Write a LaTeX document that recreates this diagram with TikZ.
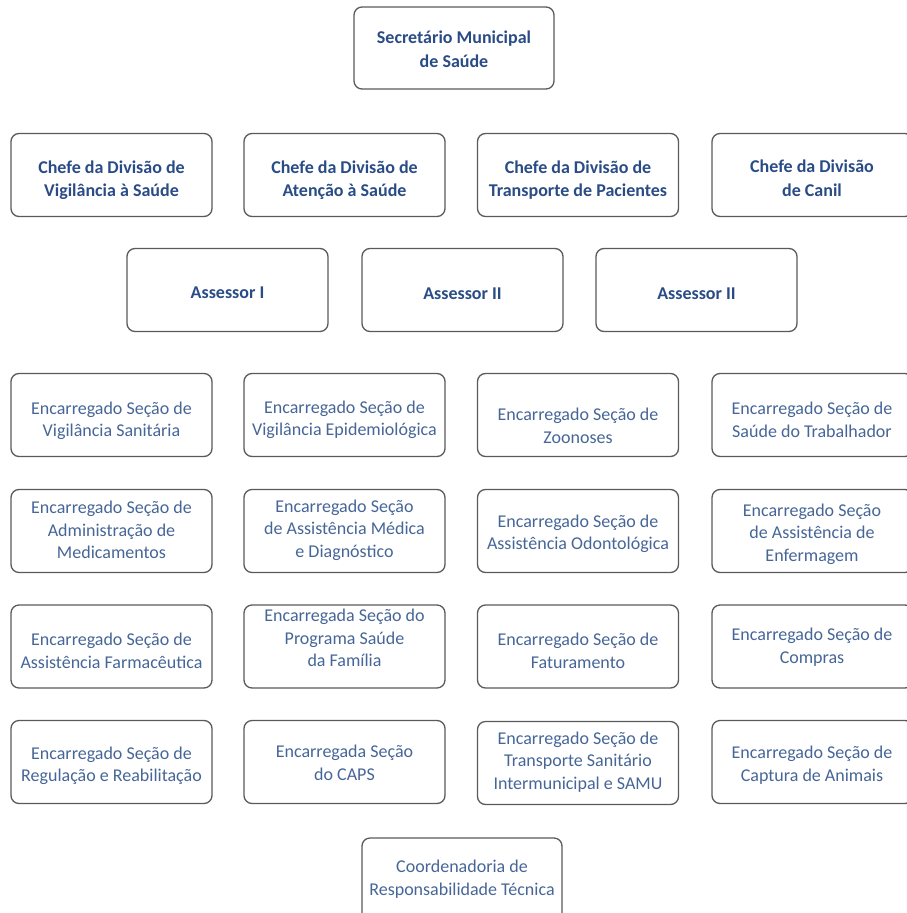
\documentclass[tikz,border=0pt]{standalone}
\usepackage{fontspec}
\setmainfont{Carlito}
\definecolor{bordercol}{RGB}{90,90,90}
\definecolor{boldblue}{RGB}{42,76,134}
\definecolor{regblue}{RGB}{70,102,152}
\tikzset{
  box/.style={draw=bordercol, line width=1.3pt, rounded corners=8pt, fill=white,
    minimum width=201pt, minimum height=83pt, inner sep=0pt},
  btxt/.style={align=center, inner sep=0pt, text=boldblue,
    font=\fontsize{18}{23.5}\selectfont\bfseries},
  rtxt/.style={align=center, inner sep=0pt, text=regblue,
    font=\fontsize{18}{22.5}\selectfont}
}
\begin{document}
\begin{tikzpicture}[x=1pt,y=-1pt]
\useasboundingbox (0,0) rectangle (907,913);
\clip (0,0) rectangle (907,913);
% top
\node[box, minimum width=200pt, minimum height=82pt] (sec) at (454,48) {};
\node[btxt] (secT) at (454,49) {Secretário Municipal\\de Saúde};
% row 2 chefes
\node[box] (c1) at (111.5,175) {};
\node[btxt] (c1T) at (111.5,180) {Chefe da Divisão de\\Vigilância à Saúde};
\node[box] (c2) at (344.5,175) {};
\node[btxt] (c2T) at (344.5,180) {Chefe da Divisão de\\Atenção à Saúde};
\node[box] (c3) at (578,175) {};
\node[btxt] (c3T) at (578,180) {Chefe da Divisão de\\Transporte de Pacientes};
\node[box] (c4) at (812.5,175) {};
\node[btxt] (c4T) at (812,178) {Chefe da Divisão\\de Canil};
% row 3 assessores
\node[box] (a1) at (227.5,290) {};
\node[btxt] (a1T) at (227.5,293) {Assessor I};
\node[box] (a2) at (462.5,290) {};
\node[btxt] (a2T) at (462.5,294) {Assessor II};
\node[box] (a3) at (696.5,290) {};
\node[btxt] (a3T) at (696.5,294) {Assessor II};
% row 4
\node[box] (r41) at (111.5,415) {};
\node[rtxt] (r41T) at (111.5,421) {Encarregado Seção de\\Vigilância Sanitária};
\node[box] (r42) at (344.5,415) {};
\node[rtxt] (r42T) at (344.5,420) {Encarregado Seção de\\Vigilância Epidemiológica};
\node[box] (r43) at (578,415) {};
\node[rtxt] (r43T) at (578,426) {Encarregado Seção de\\Zoonoses};
\node[box] (r44) at (812.5,415) {};
\node[rtxt] (r44T) at (812,420) {Encarregado Seção de\\Saúde do Trabalhador};
% row 5
\node[box] (r51) at (111.5,531) {};
\node[rtxt] (r51T) at (111.5,530) {Encarregado Seção de\\Administração de\\Medicamentos};
\node[box] (r52) at (344.5,531) {};
\node[rtxt] (r52T) at (344.5,530) {Encarregado Seção\\de Assistência Médica\\e Diagnóstico};
\node[box] (r53) at (578,531) {};
\node[rtxt] (r53T) at (578,534) {Encarregado Seção de\\Assistência Odontológica};
\node[box] (r54) at (812.5,531) {};
\node[rtxt] (r54T) at (812,534) {Encarregado Seção\\de Assistência de\\Enfermagem};
% row 6
\node[box] (r61) at (111.5,646.5) {};
\node[rtxt] (r61T) at (111.5,651) {Encarregado Seção de\\Assistência Farmacêutica};
\node[box] (r62) at (344.5,646.5) {};
\node[rtxt] (r62T) at (344.5,638) {Encarregada Seção do\\Programa Saúde\\da Família};
\node[box] (r63) at (578,646.5) {};
\node[rtxt] (r63T) at (578,651) {Encarregado Seção de\\Faturamento};
\node[box] (r64) at (812.5,646.5) {};
\node[rtxt] (r64T) at (812,647) {Encarregado Seção de\\Compras};
% row 7
\node[box] (r71) at (111.5,762) {};
\node[rtxt] (r71T) at (111.5,766) {Encarregado Seção de\\Regulação e Reabilitação};
\node[box] (r72) at (344.5,762) {};
\node[rtxt] (r72T) at (344.5,763) {Encarregada Seção\\do CAPS};
\node[box] (r73) at (578,763) {};
\node[rtxt] (r73T) at (578,762) {Encarregado Seção de\\Transporte Sanitário\\Intermunicipal e SAMU};
\node[box] (r74) at (812.5,762) {};
\node[rtxt] (r74T) at (812,765) {Encarregado Seção de\\Captura de Animais};
% bottom
\node[box, minimum width=200pt] (coord) at (462,879.5) {};
\node[rtxt] (coordT) at (462,879) {Coordenadoria de\\Responsabilidade Técnica};
\end{tikzpicture}
\end{document}
